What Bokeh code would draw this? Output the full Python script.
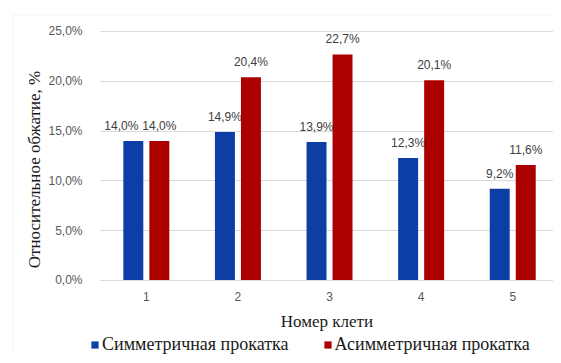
from bokeh.plotting import figure
from bokeh.models import (Range1d, FixedTicker, CustomJSTickFormatter, ColumnDataSource,
                          Legend, LegendItem, PolyAnnotation, LinearAxis, Grid)
from bokeh.transform import dodge
from bokeh.core.properties import value
from bokeh.embed import file_html
from bokeh.resources import INLINE

# ---- data ----
stands = [1, 2, 3, 4, 5]
symmetric = [14.0, 14.9, 13.9, 12.3, 9.2]
asymmetric = [14.0, 20.4, 22.7, 20.1, 11.6]
y_ticks = [0, 5, 10, 15, 20, 25]
series_names = ["Симметричная прокатка", "Асимметричная прокатка"]
x_title = "Номер клети"
y_title = "Относительное обжатие, %"

BLUE = "#0D3EA5"
RED = "#AC0000"
GRID = "#D9D9D9"


def fmt(v):
    return f"{v:.1f}".replace(".", ",") + "%"


src = ColumnDataSource(dict(
    x=stands,
    sym=symmetric,
    asym=asymmetric,
    sym_lbl=[fmt(v) for v in symmetric],
    asym_lbl=[fmt(v) for v in asymmetric],
    # label nudges (the first label was moved left in the original to avoid overlap)
    sym_dx=[-12, 0, 0, 0, 0],
    asym_dx=[0, 0, 0, 0, 0],
))

# the frame covers the whole canvas; axes are drawn at fixed locations inside it
p = figure(width=553, height=355, output_backend="svg", toolbar_location=None,
           title=None, x_range=Range1d(-0.592, 5.445), y_range=Range1d(-7.53, 28.11),
           x_axis_location=None, y_axis_location=None,
           min_border=0)
# drop the default grids (they follow the default tickers over the whole canvas)
p.grid.visible = False

OFF = 0.142
W = 0.218
r1 = p.vbar(x=dodge("x", -OFF), top="sym", width=W, source=src,
            fill_color=BLUE, line_color=None)
r2 = p.vbar(x=dodge("x", OFF), top="asym", width=W, source=src,
            fill_color=RED, line_color=None)

for xs, ys, ls, dx in ((dodge("x", -OFF), "sym", "sym_lbl", "sym_dx"),
                       (dodge("x", OFF), "asym", "asym_lbl", "asym_dx")):
    p.text(x=xs, y=ys, text=ls, source=src, text_align="center",
           text_baseline="bottom", y_offset=-8, x_offset=dx,
           text_font=value("Liberation Sans"), text_font_size="12px",
           text_color="#404040")

# chart-area border: its right and bottom edges lie outside the window
p.add_layout(PolyAnnotation(xs=[12.5, 12.5, 700, 700], ys=[700, 14.5, 14.5, 700],
                            xs_units="canvas", ys_units="canvas",
                            fill_alpha=0, line_color=GRID, line_width=1,
                            level="underlay"))

# horizontal grid, limited to the plot area
p.add_layout(Grid(dimension=1, ticker=FixedTicker(ticks=y_ticks),
                  cross_bounds=(0.5, 5.5), grid_line_color=GRID))

# y axis
yaxis = LinearAxis(fixed_location=0.5, bounds=(-5.8, 28.1),
                   ticker=FixedTicker(ticks=y_ticks),
                   formatter=CustomJSTickFormatter(code="return tick.toFixed(1).replace('.', ',') + '%';"),
                   axis_label=y_title)
p.add_layout(yaxis, "left")

# x axis
xaxis = LinearAxis(fixed_location=0, bounds=(0.5, 5.5),
                   ticker=FixedTicker(ticks=stands), axis_label=x_title)
p.add_layout(xaxis, "below")

for ax in (xaxis, yaxis):
    ax.major_tick_line_color = None
    ax.minor_tick_line_color = None
    ax.major_label_text_font = "Liberation Sans"
    ax.major_label_text_font_size = "12px"
    ax.major_label_text_color = "#595959"
    ax.axis_label_text_font = "Liberation Serif"
    ax.axis_label_text_font_size = "17px"
    ax.axis_label_text_font_style = "normal"
    ax.axis_label_text_color = "#1A1A1A"

yaxis.axis_line_color = None
xaxis.axis_line_color = GRID
yaxis.major_label_standoff = 12
yaxis.axis_label_standoff = 1
xaxis.major_label_standoff = 6
xaxis.axis_label_standoff = 7

p.outline_line_color = None

legend = Legend(items=[LegendItem(label=series_names[0], renderers=[r1]),
                       LegendItem(label=series_names[1], renderers=[r2])],
                orientation="horizontal", location=(90, 0),
                glyph_width=9, glyph_height=9, label_standoff=3, spacing=34,
                padding=0, margin=0, border_line_alpha=0, background_fill_alpha=0,
                label_text_font="Liberation Serif", label_text_font_size="18px",
                label_text_color="#1A1A1A", label_height=16)
p.add_layout(legend)

open("out.html", "w").write(file_html(p, INLINE))
